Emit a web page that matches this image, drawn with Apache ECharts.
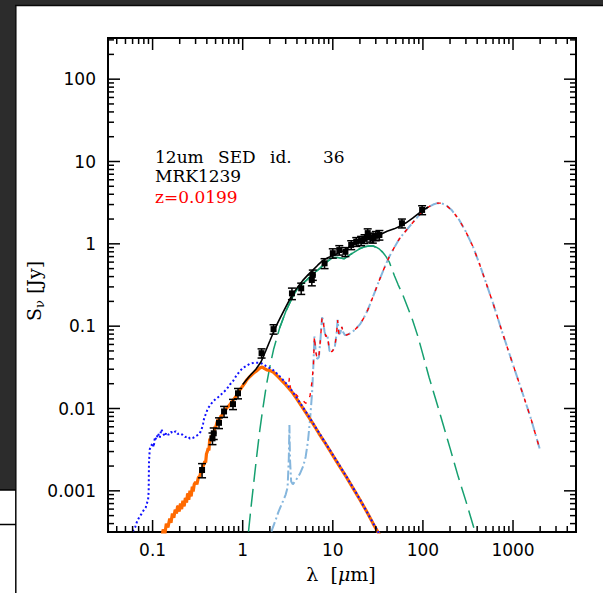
<!DOCTYPE html>
<html><head><meta charset="utf-8">
<script src="https://cdn.jsdelivr.net/npm/echarts@6/dist/echarts.min.js"></script>
<style>html,body{margin:0;padding:0;background:#fff}#c{width:603px;height:593px}</style>
</head><body><div id="c"></div>
<script>
// ---- axis ----
const X_MIN = 0.032, X_MAX = 5000;
const Y_MIN = 3.1623e-4, Y_MAX = 316.23;
const xMajorTicks = [0.1, 1, 10, 100, 1000];
const xTickLabels = ['0.1', '1', '10', '100', '1000'];
const yMajorTicks = [0.001, 0.01, 0.1, 1, 10, 100];
const yTickLabels = ['0.001', '0.01', '0.1', '1', '10', '100'];
const minorMultiples = [2, 3, 4, 5, 6, 7, 8, 9];

// ---- attenuated stellar (orange) ----
const orangeLam = [0.125,0.131,0.137,0.142,0.148,0.155,0.16,0.166,0.172,0.178,0.184,0.19,0.197,0.204,0.21,0.217,0.224,0.231,0.238,0.245,0.252,0.26,0.268,0.276,0.282,0.29,0.3,0.31,0.322,0.334,0.345,0.355,0.363,0.372,0.38,0.388,0.396,0.405,0.414,0.422,0.431,0.44,0.45,0.46,0.47,0.48,0.49,0.5,0.515,0.533,0.55,0.57,0.59,0.61,0.632,0.655,0.68,0.705,0.73,0.755,0.781,0.81,0.84,0.87,0.9,0.926,0.96,1.0,1.05,1.1,1.16,1.25,1.35,1.45,1.55,1.65,1.75,1.85,2.0,2.2,2.4,2.7,3.0,3.5,4.0,5.0,6.0,7.0,8.0,10,12,14,17,20,24,28,32,36];
const orangeFlux = [2.4e-4,3.4e-4,3.0e-4,4.0e-4,3.6e-4,4.6e-4,4.1e-4,5.3e-4,4.7e-4,5.9e-4,5.3e-4,6.6e-4,5.6e-4,7.0e-4,6.0e-4,7.6e-4,6.5e-4,8.2e-4,7.2e-4,9.3e-4,7.8e-4,1.0e-3,8.6e-4,1.12e-3,9.8e-4,1.2e-3,1.28e-3,1.2e-3,1.45e-3,1.5e-3,1.75e-3,1.65e-3,2.0e-3,2.1e-3,2.3e-3,2.2e-3,2.8e-3,3.0e-3,3.3e-3,3.1e-3,4.3e-3,4.0e-3,4.7e-3,4.5e-3,5.3e-3,5.0e-3,6.0e-3,5.8e-3,6.6e-3,7.4e-3,7.2e-3,8.0e-3,8.3e-3,8.9e-3,9.4e-3,9.9e-3,1.04e-2,1.08e-2,1.14e-2,1.2e-2,1.26e-2,1.32e-2,1.4e-2,1.47e-2,1.58e-2,1.68e-2,1.76e-2,1.88e-2,2.02e-2,2.2e-2,2.35e-2,2.55e-2,2.75e-2,2.9e-2,3.1e-2,3.2e-2,3.05e-2,2.95e-2,2.9e-2,2.75e-2,2.5e-2,2.2e-2,1.95e-2,1.6e-2,1.3e-2,9.0e-3,6.6e-3,5.0e-3,4.0e-3,2.7e-3,1.95e-3,1.5e-3,1.05e-3,7.8e-4,5.5e-4,4.0e-4,3.1e-4,2.5e-4];

// ---- unattenuated stellar (blue dotted) ----
const blueLam = [0.058,0.061,0.064,0.067,0.069,0.072,0.075,0.078,0.081,0.084,0.087,0.089,0.0905,0.0912,0.093,0.096,0.1,0.103,0.106,0.11,0.115,0.12,0.125,0.131,0.137,0.142,0.15,0.16,0.169,0.18,0.19,0.2,0.215,0.23,0.245,0.26,0.282,0.3,0.32,0.334,0.35,0.363,0.375,0.385,0.396,0.41,0.431,0.45,0.469,0.5,0.556,0.6,0.66,0.72,0.78,0.85,0.92,1.0,1.1,1.2,1.35,1.5,1.65,1.8,2.0,2.2,2.5,3.0,3.5,4.0,5,6,8,10,14,20,28,36];
const blueFlux = [2.5e-4,3.3e-4,3.6e-4,4.2e-4,4.5e-4,4.9e-4,5.2e-4,5.6e-4,6.0e-4,6.3e-4,7.2e-4,7.6e-4,1.0e-3,2.2e-3,3.2e-3,3.5e-3,3.8e-3,3.4e-3,4.5e-3,4.2e-3,5.0e-3,4.4e-3,5.6e-3,5.0e-3,4.6e-3,5.1e-3,4.8e-3,5.2e-3,5.0e-3,5.3e-3,4.9e-3,5.0e-3,4.8e-3,4.5e-3,4.6e-3,4.3e-3,4.4e-3,4.6e-3,4.8e-3,5.0e-3,5.6e-3,6.5e-3,7.8e-3,8.3e-3,9.0e-3,1.0e-2,1.08e-2,1.15e-2,1.22e-2,1.3e-2,1.42e-2,1.55e-2,1.7e-2,1.95e-2,2.15e-2,2.5e-2,2.8e-2,3.1e-2,3.3e-2,3.5e-2,3.6e-2,3.6e-2,3.5e-2,3.3e-2,3.1e-2,2.9e-2,2.55e-2,2.05e-2,1.66e-2,1.34e-2,9.2e-3,6.7e-3,4.05e-3,2.75e-3,1.52e-3,7.9e-4,4.05e-4,2.5e-4];

// ---- star-forming / cold dust (light blue dash-dot) ----
const sfLam = [2.08,2.3,2.5,2.8,3.0,3.15,3.25,3.3,3.35,3.45,3.6,3.9,4.3,4.7,5.0,5.3,5.6,5.9,6.1,6.25,6.45,6.7,7.0,7.3,7.6,7.8,8.1,8.4,8.7,9.2,9.8,10.5,11.0,11.3,11.7,12.1,12.6,13.0,13.6,14.1,15.0,16.5,18,20,22,24.4,28,32.9,37,42.4,48,54.8,65,76.9,88,99,115,130,145,160,180,210,253,300,360,422,500,600,750,1000,1300,1600,2000];
const sfFlux = [3.2e-4,4.3e-4,5.6e-4,7.5e-4,9.0e-4,1.1e-3,2.5e-3,6.3e-3,2.4e-3,1.3e-3,1.2e-3,1.35e-3,1.6e-3,2.0e-3,2.6e-3,4.0e-3,7.5e-3,1.6e-2,3.5e-2,7.5e-2,5.0e-2,4.0e-2,4.2e-2,7.0e-2,0.128,0.12,0.085,0.075,0.078,0.05,0.049,0.055,0.08,0.119,0.08,0.082,0.098,0.085,0.078,0.078,0.08,0.085,0.093,0.105,0.125,0.157,0.23,0.364,0.5,0.7,0.9,1.15,1.45,1.8,2.15,2.46,2.8,3.0,3.12,3.12,2.95,2.55,1.95,1.4,0.92,0.58,0.34,0.19,0.088,0.034,0.0145,0.0072,0.0031];

// ---- stellar + star-forming sum, 2-6 um junction (red dashed) ----
const redJoinLam = [2.2,2.5,2.8,3.0,3.15,3.25,3.3,3.35,3.45,3.6,3.9,4.3,4.7,5.0,5.3,5.6,5.9];
const redJoinFlux = [0.028,0.0245,0.0218,0.0204,0.0194,0.0205,0.0235,0.019,0.0165,0.0158,0.0148,0.0132,0.0124,0.0116,0.0118,0.0145,0.022];

// ---- hot dust / AGN (green) ----
const agnLam = [1.16,1.25,1.35,1.45,1.55,1.65,1.83,2.0,2.2,2.57,3.0,3.6,4.2,5.08,6.0,7.13,8.5,10.0,11.5,13.4,15.3,17.5,19.8,22.5,25.3,28,30.3,33,35.8,39,42.4,48.3,53,59.4,67,76.9,88,99,117,150,200,246,300,378,420];
const agnFlux = [3.2e-4,7e-4,1.5e-3,3.0e-3,5.5e-3,9e-3,0.019,0.032,0.052,0.095,0.15,0.23,0.3,0.36,0.43,0.5,0.6,0.68,0.68,0.66,0.73,0.8,0.87,0.92,0.94,0.94,0.91,0.86,0.79,0.7,0.6,0.41,0.32,0.245,0.175,0.118,0.075,0.047,0.024,0.0097,0.0033,0.0015,7.5e-4,3.2e-4,2.2e-4];

// ---- total model (black) ----
const totalLam = [1.0,1.2,1.4,1.6,1.8,2.0,2.2,2.4,2.6,3.0,3.5,4.0,4.65,5.3,6.0,6.8,7.77,8.8,10.4,12.0,13.5,15.3,18,20.6,23.4,27,32.9,40,48,54.8,65,76.9,90.6,105,115];
const totalFlux = [0.0195,0.025,0.030,0.037,0.05,0.066,0.085,0.105,0.125,0.17,0.235,0.29,0.36,0.42,0.48,0.55,0.63,0.68,0.73,0.79,0.83,0.92,1.0,1.06,1.11,1.18,1.28,1.42,1.52,1.62,1.8,2.05,2.36,2.65,2.8];

// ---- photometry ----
const obsLam = [0.354,0.462,0.477,0.546,0.621,0.78,0.887,1.62,2.2,3.52,4.46,5.85,6.0,8.1,10.0,11.8,13.8,16.0,18.2,20.6,22.5,24.4,26.0,27.8,30.0,32.9,58.5,98];
const obsFlux = [0.00179,0.00434,0.0050,0.0067,0.0092,0.0113,0.0153,0.047,0.092,0.25,0.288,0.364,0.42,0.58,0.77,0.84,0.80,0.97,1.06,1.09,1.15,1.35,1.2,1.17,1.25,1.28,1.78,2.58];
const obsErr = [0.00035,0.0007,0.0008,0.001,0.0014,0.0016,0.0022,0.006,0.012,0.04,0.045,0.055,0.06,0.08,0.1,0.11,0.1,0.12,0.13,0.14,0.14,0.17,0.15,0.15,0.16,0.17,0.22,0.32];

// ---- texts ----
const titleWords = ['12um', 'SED', 'id.', '36'];
const sourceName = 'MRK1239';
const redshiftText = 'z=0.0199';

function pairs(lam, flux) { return lam.map((l, i) => [l, flux[i]]); }
const redData = pairs(orangeLam, orangeFlux).filter(p => p[0] < 2.2)
  .concat(pairs(redJoinLam, redJoinFlux))
  .concat(pairs(sfLam, sfFlux).filter(p => p[0] >= 6.1));
const agnSolid = pairs(agnLam, agnFlux).filter(p => p[0] >= 2.57 && p[0] <= 35.8);

const xTickData = [], yTickData = [];
xMajorTicks.forEach((v, i) => xTickData.push([v, 1, 1, i]));
yMajorTicks.forEach((v, i) => yTickData.push([1, v, 1, i]));
for (let d = -2; d <= 3; d++) minorMultiples.forEach(m => {
  const v = m * Math.pow(10, d);
  if (v > X_MIN && v < X_MAX) xTickData.push([v, 1, 0, -1]);
});
for (let d = -4; d <= 2; d++) minorMultiples.forEach(m => {
  const v = m * Math.pow(10, d);
  if (v > Y_MIN && v < Y_MAX) yTickData.push([1, v, 0, -1]);
});

const TICK_FONT = '17px "DejaVu Sans"';
function lineSeg(x1, y1, x2, y2, w) {
  return { type: 'line', shape: { x1, y1, x2, y2 }, style: { stroke: '#000', lineWidth: w || 1.5 } };
}

const line = (name, data, color, width, type, z) => ({
  name, type: 'line', data, symbol: 'none', showSymbol: false, z, silent: true,
  lineStyle: { color, width, type }, clip: true
});

const chart = echarts.init(document.getElementById('c'), null, { renderer: 'svg' });
chart.setOption({
  animation: false,
  backgroundColor: '#ffffff',
  grid: { left: 108, top: 38, right: 27, bottom: 61, show: true, borderColor: '#000', borderWidth: 2, backgroundColor: 'transparent' },
  xAxis: { type: 'log', logBase: 10, min: X_MIN, max: X_MAX, axisLine: { show: false }, axisTick: { show: false }, axisLabel: { show: false }, splitLine: { show: false } },
  yAxis: { type: 'log', logBase: 10, min: Y_MIN, max: Y_MAX, axisLine: { show: false }, axisTick: { show: false }, axisLabel: { show: false }, splitLine: { show: false } },
  graphic: [
    { type: 'rect', silent: true, shape: { x: 0, y: 0, width: 603, height: 5 }, style: { fill: '#2c2c2c' } },
    { type: 'rect', silent: true, shape: { x: 0, y: 0, width: 15, height: 490 }, style: { fill: '#2c2c2c' } },
    { type: 'line', silent: true, shape: { x1: 15, y1: 5.5, x2: 603, y2: 5.5 }, style: { stroke: '#080808', lineWidth: 1.5 } },
    { type: 'line', silent: true, shape: { x1: 15.8, y1: 5, x2: 15.8, y2: 593 }, style: { stroke: '#080808', lineWidth: 1.5 } },
    { type: 'line', silent: true, shape: { x1: 0, y1: 490, x2: 16, y2: 490 }, style: { stroke: '#000', lineWidth: 1.5 } },
    { type: 'line', silent: true, shape: { x1: 0, y1: 524.5, x2: 16, y2: 524.5 }, style: { stroke: '#000', lineWidth: 1.5 } },
    { type: 'text', x: 155, y: 157, style: { text: titleWords[0], font: '17px "DejaVu Serif"', fill: '#000', align: 'left', verticalAlign: 'middle' } },
    { type: 'text', x: 218, y: 157, style: { text: titleWords[1], font: '17px "DejaVu Serif"', fill: '#000', align: 'left', verticalAlign: 'middle' } },
    { type: 'text', x: 270, y: 157, style: { text: titleWords[2], font: '17px "DejaVu Serif"', fill: '#000', align: 'left', verticalAlign: 'middle' } },
    { type: 'text', x: 323, y: 157, style: { text: titleWords[3], font: '17px "DejaVu Serif"', fill: '#000', align: 'left', verticalAlign: 'middle' } },
    { type: 'text', x: 155, y: 176, style: { text: sourceName, font: '17px "DejaVu Serif"', fill: '#000', align: 'left', verticalAlign: 'middle' } },
    { type: 'text', x: 155, y: 197, style: { text: redshiftText, font: '17px "DejaVu Serif"', fill: '#ff0000', align: 'left', verticalAlign: 'middle' } },
    { type: 'text', x: 341, y: 574, style: { text: '{n|λ  [}{i|μ}{n|m]}', align: 'center', verticalAlign: 'middle',
        rich: { n: { fontSize: 19, fontFamily: 'DejaVu Serif', fill: '#000' }, i: { fontSize: 19, fontFamily: 'DejaVu Serif', fontStyle: 'italic', fill: '#000' } } } },
    { type: 'text', x: 34, y: 291, rotation: Math.PI / 2, style: { text: '{n|S}{s|ν}{n| [Jy]}', align: 'center', verticalAlign: 'middle',
        rich: { n: { fontSize: 19, fontFamily: 'DejaVu Serif', fill: '#000' }, s: { fontSize: 13, fontFamily: 'DejaVu Serif', fill: '#000', padding: [10, 0, 0, 0] } } } }
  ],
  series: [
    line('AGN dust', pairs(agnLam, agnFlux), '#16a070', 1.5, [18, 7], 2),
    line('star forming', pairs(sfLam, sfFlux), '#85b6dd', 2, [10, 3, 2, 3], 3),
    line('stellar+SF', redData, '#ff0000', 1.4, [4, 7], 4),
    line('attenuated stars', pairs(orangeLam, orangeFlux), '#ff6a00', 3.2, 'solid', 5),
    line('unattenuated stars', pairs(blueLam, blueFlux), '#1010ff', 2, [2, 2.5], 6),
    line('AGN dust core', agnSolid, '#16a070', 1.5, 'solid', 7),
    line('total', pairs(totalLam, totalFlux), '#000000', 1.6, 'solid', 8),
    {
      name: 'photometry', type: 'custom', coordinateSystem: 'cartesian2d', z: 9, silent: true,
      data: obsLam.map((l, i) => [l, obsFlux[i], obsErr[i]]),
      renderItem(params, api) {
        const x = api.value(0), y = api.value(1), e = api.value(2);
        const c = api.coord([x, y]), lo = api.coord([x, y - e]), hi = api.coord([x, y + e]);
        return { type: 'group', children: [
          lineSeg(c[0], lo[1], c[0], hi[1], 1.5),
          lineSeg(c[0] - 4, lo[1], c[0] + 4, lo[1], 1.5),
          lineSeg(c[0] - 4, hi[1], c[0] + 4, hi[1], 1.5),
          { type: 'rect', shape: { x: c[0] - 3, y: c[1] - 3, width: 6, height: 6 }, style: { fill: '#000' } }
        ] };
      }
    },
    {
      name: 'xticks', type: 'custom', coordinateSystem: 'cartesian2d', z: 10, silent: true, clip: false,
      data: xTickData,
      renderItem(params, api) {
        const cs = params.coordSys;
        const x = api.coord([api.value(0), 1])[0];
        const major = api.value(2) === 1;
        const len = major ? 12 : 6;
        const bottom = cs.y + cs.height, top = cs.y;
        const ch = [lineSeg(x, bottom, x, bottom - len), lineSeg(x, top, x, top + len)];
        if (major) ch.push({ type: 'text', style: { text: xTickLabels[api.value(3)], x: x, y: bottom + 18, align: 'center', verticalAlign: 'middle', font: TICK_FONT, fill: '#000' } });
        return { type: 'group', children: ch };
      }
    },
    {
      name: 'yticks', type: 'custom', coordinateSystem: 'cartesian2d', z: 10, silent: true, clip: false,
      data: yTickData,
      renderItem(params, api) {
        const cs = params.coordSys;
        const y = api.coord([1, api.value(1)])[1];
        const major = api.value(2) === 1;
        const len = major ? 12 : 6;
        const left = cs.x, right = cs.x + cs.width;
        const ch = [lineSeg(left, y, left + len, y), lineSeg(right, y, right - len, y)];
        if (major) ch.push({ type: 'text', style: { text: yTickLabels[api.value(3)], x: left - 12, y: y, align: 'right', verticalAlign: 'middle', font: TICK_FONT, fill: '#000' } });
        return { type: 'group', children: ch };
      }
    }
  ]
});
</script>
</body></html>
